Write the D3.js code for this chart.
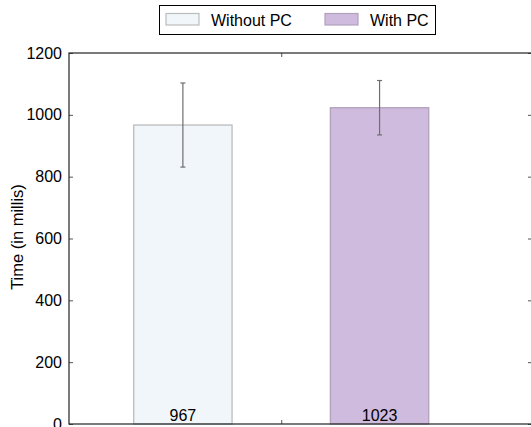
<!DOCTYPE html>
<html>
<head>
<meta charset="utf-8">
<script src="https://cdn.jsdelivr.net/npm/d3@7"></script>
<style>
  body { margin: 0; background: #fff; }
  text { font-family: "Liberation Sans", Arial, sans-serif; fill: #000; }
</style>
</head>
<body>
<div id="chart"></div>
<script>
// data
const series = ["Without PC", "With PC"];
const means = [967, 1023];
const errors = [136, 88];
const barFills = ["#f0f6f9", "#cfbbdd"];
const barStrokes = ["#bcbcbc", "#b1a2bc"];
const yTicks = [0, 200, 400, 600, 800, 1000, 1200];
const xTicks = [1.5];

const width = 531;
const height = 427;

const svg = d3.select("#chart")
	.append("svg")
	.attr("width", width)
	.attr("height", height);

// bar positions in units of one bar width: left edges at 0 and 2
// (right spine sits just past the edge of the picture)
const x = d3.scaleLinear().domain([-0.658, 4.05]).range([69, 532]);
const y = d3.scaleLinear().domain([0, 1200]).range([424, 53]);

const data = series.map((s, i) => ({
	name: s, mean: means[i], err: errors[i], x0: i * 2,
	fill: barFills[i], stroke: barStrokes[i]
}));

// bars
svg.selectAll(".bar")
	.data(data)
	.join("rect")
	.attr("class", "bar")
	.attr("x", d => x(d.x0))
	.attr("y", d => y(d.mean))
	.attr("width", d => x(d.x0 + 1) - x(d.x0))
	.attr("height", d => y(0) - y(d.mean))
	.attr("fill", d => d.fill)
	.attr("stroke", d => d.stroke)
	.attr("stroke-width", 1.3);

// error bars
const eb = svg.selectAll(".err")
	.data(data)
	.join("g")
	.attr("class", "err")
	.attr("stroke", "#6e6e6e")
	.attr("stroke-width", 1.2);

eb.append("line")
	.attr("x1", d => x(d.x0 + 0.5))
	.attr("x2", d => x(d.x0 + 0.5))
	.attr("y1", d => y(d.mean - d.err))
	.attr("y2", d => y(d.mean + d.err));

[-1, 1].forEach(s => {
	eb.append("line")
		.attr("x1", d => x(d.x0 + 0.5) - 2.5)
		.attr("x2", d => x(d.x0 + 0.5) + 2.5)
		.attr("y1", d => y(d.mean + s * d.err))
		.attr("y2", d => y(d.mean + s * d.err));
});

// value labels at the bottom of the bars
svg.selectAll(".val")
	.data(data)
	.join("text")
	.attr("class", "val")
	.attr("x", d => x(d.x0 + 0.5))
	.attr("y", 421)
	.attr("text-anchor", "middle")
	.style("font-size", "16px")
	.text(d => d.mean);

// axes (ticks inside, on all sides)
const [x0] = x.range();
const x1 = x(4.05);
const [yb, yt] = y.range();

svg.append("g")
	.attr("transform", `translate(${x0},0)`)
	.call(d3.axisLeft(y).tickValues(yTicks).tickSize(-4).tickPadding(7).tickFormat(d3.format("d")))
	.call(g => g.select(".domain").remove())
	.call(g => g.selectAll("text").style("font-size", "16px").attr("fill", "#000"));

svg.append("g")
	.attr("transform", `translate(${x1},0)`)
	.call(d3.axisRight(y).tickValues(yTicks).tickSize(-4).tickFormat(""))
	.call(g => g.select(".domain").remove());

svg.append("g")
	.attr("transform", `translate(0,${yb})`)
	.call(d3.axisBottom(x).tickValues(xTicks).tickSize(-4).tickFormat(""))
	.call(g => g.select(".domain").remove());

svg.append("g")
	.attr("transform", `translate(0,${yt})`)
	.call(d3.axisTop(x).tickValues(xTicks).tickSize(-4).tickFormat(""))
	.call(g => g.select(".domain").remove());

svg.selectAll(".tick line").attr("stroke", "#555");

// frame
svg.append("rect")
	.attr("x", x0)
	.attr("y", yt)
	.attr("width", x1 - x0)
	.attr("height", yb - yt)
	.attr("fill", "none")
	.attr("stroke", "#222")
	.attr("stroke-width", 1.2);

// y label
svg.append("text")
	.attr("transform", "translate(23,237) rotate(-90)")
	.attr("text-anchor", "middle")
	.style("font-size", "16.5px")
	.text("Time (in millis)");

// legend
const legend = svg.append("g");
legend.append("rect")
	.attr("x", 159.5)
	.attr("y", 5.5)
	.attr("width", 276)
	.attr("height", 29)
	.attr("fill", "#fff")
	.attr("stroke", "#000");

const legendX = [166, 325];
const item = legend.selectAll(".item")
	.data(data)
	.join("g")
	.attr("class", "item")
	.attr("transform", (d, i) => `translate(${legendX[i]},0)`);

item.append("rect")
	.attr("x", 0)
	.attr("y", 13.5)
	.attr("width", 33)
	.attr("height", 11.5)
	.attr("fill", d => d.fill)
	.attr("stroke", d => d.stroke)
	.attr("stroke-width", 1.2);

item.append("text")
	.attr("x", 45)
	.attr("y", 25.5)
	.style("font-size", "16px")
	.text(d => d.name);
</script>
</body>
</html>
